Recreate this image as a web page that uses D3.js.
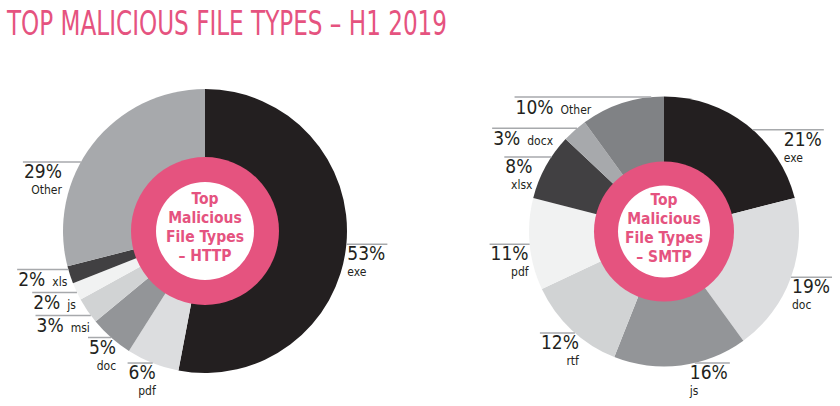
<!DOCTYPE html>
<html>
<head>
<meta charset="utf-8">
<script src="https://cdn.jsdelivr.net/npm/d3@7"></script>
<style>
  body { margin: 0; background: #fff; }
  text { font-family: "DejaVu Sans Condensed", "Liberation Sans Narrow", Roboto, sans-serif; }
</style>
</head>
<body>
<svg width="840" height="406"></svg>
<script>
// data
const httpTypes = ["exe", "pdf", "doc", "msi", "js", "xls", "Other"];
const httpShares = [53, 6, 5, 3, 2, 2, 29];
const smtpTypes = ["exe", "doc", "js", "rtf", "pdf", "xlsx", "docx", "Other"];
const smtpShares = [21, 19, 16, 12, 11, 8, 3, 10];

// styles
const PINK = "#e5537f";
const INK = "#231f20";
const httpColors = ["#231f20", "#dcdddf", "#939598", "#d1d3d4", "#f1f2f2", "#414042", "#a7a9ac"];
const smtpColors = ["#231f20", "#dcdddf", "#939598", "#d1d3d4", "#f1f2f2", "#414042", "#a7a9ac", "#808285"];

const svg = d3.select("svg");

svg.append("text")
  .attr("x", 7)
  .attr("y", 35)
  .attr("font-size", 34)
  .attr("fill", PINK)
  .attr("textLength", 440)
  .attr("lengthAdjust", "spacingAndGlyphs")
  .text("TOP MALICIOUS FILE TYPES \u2013 H1 2019");

function donut(cfg) {
  const data = cfg.types.map((t, i) => ({type: t, share: cfg.shares[i], color: cfg.colors[i]}));
  const pie = d3.pie().sort(null).value(d => d.share);
  const arcs = pie(data);
  const arc = d3.arc().innerRadius(0).outerRadius(cfg.r);
  const r = cfg.r;

  const g = svg.append("g").attr("transform", "translate(" + cfg.cx + "," + cfg.cy + ")");

  g.selectAll("path")
    .data(arcs)
    .join("path")
    .attr("d", arc)
    .attr("fill", d => d.data.color);

  g.append("circle").attr("r", cfg.ringOuter).attr("fill", PINK);
  g.append("circle").attr("r", cfg.ringInner).attr("fill", "#fff");

  g.selectAll("text.center")
    .data(cfg.center)
    .join("text")
    .attr("class", "center")
    .attr("y", (d, i) => -27 + 19 * i)
    .attr("text-anchor", "middle")
    .attr("font-size", 15.5)
    .attr("font-weight", "bold")
    .attr("fill", PINK)
    .text(d => d);

  // label anchors from slice mid angles
  const labels = arcs.map(d => {
    const a = (d.startAngle + d.endAngle) / 2;
    const n = cfg.nudge[d.data.type] || [0, 0];
    return {
      d: d,
      a: a,
      left: a > Math.PI,
      y: -r * Math.cos(a) + n[0],
      dx: n[1],
      inline: cfg.inline.includes(d.data.type)
    };
  });

  // push apart stacked inline labels on each side
  [true, false].forEach(side => {
    const grp = labels.filter(l => l.inline && l.left === side).sort((a, b) => a.y - b.y);
    for (let k = 0; k < 60; k++) {
      for (let i = 1; i < grp.length; i++) {
        const gap = grp[i].y - grp[i - 1].y;
        if (gap < 23) {
          const s = (23 - gap) / 2;
          grp[i].y += s;
          grp[i - 1].y -= s;
        }
      }
    }
  });

  labels.forEach(l => {
    const ay = l.y;
    const ax = Math.abs(ay) < r
      ? (l.left ? -1 : 1) * Math.sqrt(r * r - ay * ay)
      : r * Math.sin(l.a);
    const anchor = l.left ? "end" : "start";
    const tx = l.left ? ax - 1 + l.dx : ax + 1 + l.dx;
    const lg = g.append("g");

    if (l.inline) {
      const t = lg.append("text")
        .attr("x", tx)
        .attr("y", ay + 17)
        .attr("text-anchor", anchor)
        .attr("fill", INK);
      t.append("tspan").attr("font-size", 19).text(l.d.data.share + "%");
      t.append("tspan").attr("dx", 7).attr("font-size", 12).text(l.d.data.type);
    } else {
      lg.append("text")
        .attr("x", tx)
        .attr("y", ay + 16)
        .attr("text-anchor", anchor)
        .attr("font-size", 19)
        .attr("fill", INK)
        .text(l.d.data.share + "%");
      lg.append("text")
        .attr("x", tx)
        .attr("y", ay + 32)
        .attr("text-anchor", anchor)
        .attr("font-size", 12)
        .attr("fill", INK)
        .text(l.d.data.type);
    }

    const bb = lg.node().getBBox();
    const x1 = l.left ? bb.x - 1 : bb.x + bb.width + 2;
    g.append("line")
      .attr("x1", x1)
      .attr("x2", ax)
      .attr("y1", ay)
      .attr("y2", ay)
      .attr("stroke", "#a7a9ac")
      .attr("stroke-width", 1.5);
  });
}

donut({
  types: httpTypes, shares: httpShares, colors: httpColors,
  cx: 205, cy: 231, r: 142, ringOuter: 74, ringInner: 49,
  center: ["Top", "Malicious", "File Types", "\u2013 HTTP"],
  inline: ["xls", "js", "msi"],
  nudge: {Other: [18, -18], doc: [0, 6], pdf: [0, 4]}
});

donut({
  types: smtpTypes, shares: smtpShares, colors: smtpColors,
  cx: 664, cy: 231.5, r: 135, ringOuter: 70, ringInner: 46,
  center: ["Top", "Malicious", "File Types", "\u2013 SMTP"],
  inline: ["Other", "docx"],
  nudge: {exe: [5, 30], js: [-2.5, -6], rtf: [3, 5], xlsx: [-9.5, -18], docx: [-2, -23], Other: [-6, -59]}
});
</script>
</body>
</html>
